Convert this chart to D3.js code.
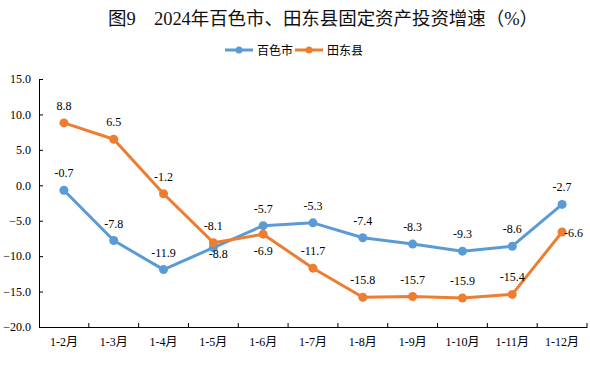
<!DOCTYPE html>
<html>
<head>
<meta charset="utf-8">
<script src="https://cdn.jsdelivr.net/npm/d3@7"></script>
<style>
  body { margin: 0; background: #fff; }
  svg text { font-family: "Liberation Serif", "Noto Sans CJK SC", serif; }
</style>
</head>
<body>
<div id="chart"></div>
<script>
// data
var months = ["1-2月", "1-3月", "1-4月", "1-5月", "1-6月", "1-7月", "1-8月", "1-9月", "1-10月", "1-11月", "1-12月"];
var baise = [-0.7, -7.8, -11.9, -8.8, -5.7, -5.3, -7.4, -8.3, -9.3, -8.6, -2.7];
var tiandong = [8.8, 6.5, -1.2, -8.1, -6.9, -11.7, -15.8, -15.7, -15.9, -15.4, -6.6];
var yTicks = [-20, -15, -10, -5, 0, 5, 10, 15];

// where each data label sits relative to its point
var baisePos = ["up", "up", "up", "down", "up", "up", "up", "up", "up", "up", "up"];
var tiandongPos = ["up", "up", "up", "up", "down", "up", "up", "up", "up", "up", "right"];

var W = 590, H = 375;
var margin = { top: 79, right: 3, bottom: 48, left: 39 },
    width = W - margin.left - margin.right,
    height = H - margin.top - margin.bottom;

var svg = d3.select("#chart").append("svg")
    .attr("width", W)
    .attr("height", H);

// title
svg.append("text")
    .attr("x", 108).attr("y", 25)
    .attr("font-size", 18.5)
    .attr("fill", "#111")
    .attr("textLength", 430)
    .attr("lengthAdjust", "spacing")
    .text("图9　2024年百色市、田东县固定资产投资增速（%）");

var g = svg.append("g")
    .attr("transform", "translate(" + margin.left + "," + margin.top + ")");

var x = d3.scaleBand().domain(months).range([0, width]);
var y = d3.scaleLinear().domain([-20, 15]).range([height, 0]);

// y axis
var yAxis = g.append("g")
    .call(d3.axisLeft(y).tickValues(yTicks).tickSizeInner(-4).tickSizeOuter(0)
        .tickPadding(8).tickFormat(d3.format(".1f")));
yAxis.selectAll("text").attr("font-size", 12).attr("fill", "#000")
    .style("font-family", "'Liberation Serif', serif");
yAxis.selectAll("line, path").attr("stroke", "#000");

// x axis, ticks between categories
var xAxis = g.append("g")
    .attr("transform", "translate(0," + height + ")")
    .call(d3.axisBottom(x).tickSize(0).tickPadding(10));
xAxis.select(".domain").attr("stroke", "#000");
xAxis.selectAll("text").attr("font-size", 12).attr("fill", "#000");
xAxis.selectAll(".sep")
    .data(months.slice(1).concat(["end"]))
    .enter().append("line")
    .attr("class", "sep")
    .attr("x1", function (d, i) { return x.step() * (i + 1); })
    .attr("x2", function (d, i) { return x.step() * (i + 1); })
    .attr("y1", 0).attr("y2", -4)
    .attr("stroke", "#000");

var cx = function (d, i) { return x(months[i]) + x.bandwidth() / 2; };

var line = d3.line()
    .x(cx)
    .y(function (d) { return y(d); });

var series = [
    { name: "百色市", values: baise, color: "#5B9BD5", pos: baisePos },
    { name: "田东县", values: tiandong, color: "#ED7D31", pos: tiandongPos }
];

series.forEach(function (s) {
    g.append("path")
        .datum(s.values)
        .attr("fill", "none")
        .attr("stroke", s.color)
        .attr("stroke-width", 3)
        .attr("stroke-linejoin", "round")
        .attr("d", line);

    g.selectAll(".dot-" + s.name)
        .data(s.values)
        .enter().append("circle")
        .attr("cx", cx)
        .attr("cy", function (d) { return y(d); })
        .attr("r", 4.5)
        .attr("fill", s.color);
});

series.forEach(function (s) {
    g.selectAll(".lbl-" + s.name)
        .data(s.values)
        .enter().append("text")
        .attr("x", function (d, i) {
            var p = s.pos[i];
            if (p === "right") return cx(d, i) + 2;
            if (p === "down" && s.name === "百色市") return cx(d, i) + 5;
            return cx(d, i);
        })
        .attr("y", function (d, i) {
            var p = s.pos[i];
            if (p === "right") return y(d) + 5;
            if (p === "down") return y(d) + (s.name === "百色市" ? 10 : 21);
            return y(d) - 13;
        })
        .attr("text-anchor", function (d, i) { return s.pos[i] === "right" ? "start" : "middle"; })
        .attr("font-size", 12)
        .attr("fill", "#000")
        .style("font-family", "'Liberation Serif', serif")
        .text(function (d) { return d.toFixed(1); });
});

// legend
var legend = svg.append("g").attr("transform", "translate(225,50)");
var lx = [0, 70];
series.forEach(function (s, i) {
    var lg = legend.append("g").attr("transform", "translate(" + lx[i] + ",0)");
    lg.append("line").attr("x1", 0).attr("x2", 28).attr("y1", 0).attr("y2", 0)
        .attr("stroke", s.color).attr("stroke-width", 3);
    lg.append("circle").attr("cx", 14).attr("cy", 0).attr("r", 3.5).attr("fill", s.color);
    lg.append("text").attr("x", 32).attr("y", 4.5)
        .attr("font-size", 12).attr("fill", "#000")
        .style("font-family", "'Noto Sans CJK SC', sans-serif")
        .text(s.name);
});
</script>
</body>
</html>
